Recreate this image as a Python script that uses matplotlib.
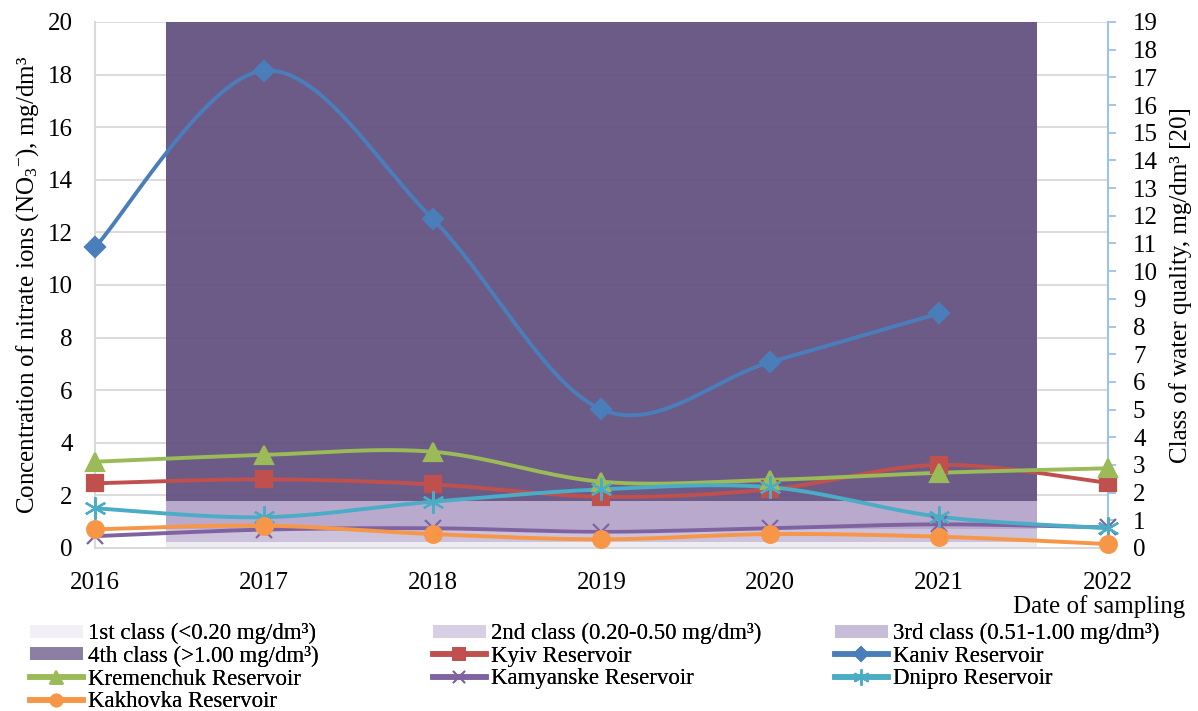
import numpy as np
import matplotlib
matplotlib.use("Agg")
import matplotlib.pyplot as plt
from matplotlib.colors import to_rgb
from matplotlib.lines import Line2D
from matplotlib.patches import Patch

plt.rcParams["font.family"] = ["Liberation Serif", "DejaVu Serif"]
plt.rcParams["mathtext.fontset"] = "custom"
plt.rcParams["mathtext.rm"] = "Liberation Serif"
plt.rcParams["mathtext.it"] = "Liberation Serif:italic"

# ---- data -------------------------------------------------------------
years = [2016, 2017, 2018, 2019, 2020, 2021, 2022]

kyiv = [2.46, 2.61, 2.42, 1.95, 2.23, 3.16, 2.48]
kaniv = [11.44, 18.15, 12.51, 5.27, 7.07, 8.92, np.nan]
kremenchuk = [3.28, 3.54, 3.66, 2.52, 2.59, 2.86, 3.03]
kamyanske = [0.45, 0.70, 0.75, 0.62, 0.75, 0.90, 0.78]
dnipro = [1.51, 1.17, 1.76, 2.23, 2.31, 1.19, 0.75]
kakhovka = [0.71, 0.85, 0.53, 0.33, 0.53, 0.43, 0.15]

series_names = ["Kyiv Reservoir", "Kaniv Reservoir", "Kremenchuk Reservoir",
                "Kamyanske Reservoir", "Dnipro Reservoir", "Kakhovka Reservoir"]
series_values = [kyiv, kaniv, kremenchuk, kamyanske, dnipro, kakhovka]

# water-quality class bands (stacked on the secondary axis)
class_labels = ["1st class (<0.20 mg/dm³)", "2nd class (0.20-0.50 mg/dm³)",
                "3rd class (0.51-1.00 mg/dm³)", "4th class (>1.00 mg/dm³)"]
class_heights = [0.2, 0.5, 1.0, 17.3]

# ---- styling ----------------------------------------------------------
class_colors = ["#EDEAF2", "#C8BDD9", "#B3A3C9", "#614D7D"]
BAR_ALPHA = 0.92
series_styles = [
    dict(color="#C0504D", marker="s", ms=12),
    dict(color="#4A7EBB", marker="D", ms=10),
    dict(color="#9BBB59", marker="^", ms=13),
    dict(color="#7F63A1", marker="x", ms=12),
    dict(color="#4BACC6", marker=(6, 2, 0), ms=16),
    dict(color="#F79646", marker="o", ms=12),
]
LW = 2.8
TICK_FS = 18
LEG_FS = 16.5
GRID_COLOR = "#D9D9D9"


def smooth_curve(x, y, steps=40):
    """Bezier smoothing through every point (Catmull-Rom style)."""
    x = np.asarray(x, float)
    y = np.asarray(y, float)
    ok = np.isfinite(y)
    p = np.column_stack([x[ok], y[ok]])
    n = len(p)
    out = []
    t = np.linspace(0, 1, steps)[:, None]
    for i in range(n - 1):
        p0 = p[i - 1] if i > 0 else p[i]
        p1 = p[i]
        p2 = p[i + 1]
        p3 = p[i + 2] if i + 2 < n else p[i + 1]
        c1 = p1 + (p2 - p0) / 6.0
        c2 = p2 - (p3 - p1) / 6.0
        seg = ((1 - t) ** 3) * p1 + 3 * ((1 - t) ** 2) * t * c1 \
            + 3 * (1 - t) * t ** 2 * c2 + t ** 3 * p2
        out.append(seg if i == 0 else seg[1:])
    seg = np.vstack(out)
    return seg[:, 0], seg[:, 1]


def lighten(c, keep=0.72):
    """Blend a colour toward white (used for the legend swatches)."""
    r, g, b = to_rgb(c)
    return tuple(keep * v + (1 - keep) for v in (r, g, b))


W, H = 1198, 711
fig = plt.figure(figsize=(W / 100, H / 100), dpi=100)
left, right, top, bottom = 95, 1108, 22, 548
ax = fig.add_axes([left / W, 1 - bottom / H, (right - left) / W, (bottom - top) / H])
ax2 = ax.twinx()
ax.set_zorder(ax2.get_zorder() + 1)
ax.patch.set_visible(False)

ax.set_xlim(2016, 2022)
ax.set_ylim(0, 20)
ax.set_xticks(years)
ax.set_yticks(range(0, 21, 2))
ax2.set_ylim(0, 19)
ax2.set_yticks(range(0, 20))

# gridlines sit behind the class column (drawn in the rear axes)
ax2.grid(axis="x", color=GRID_COLOR, linewidth=1.3, zorder=0)
ax2.set_axisbelow(True)
for v in range(0, 21, 2):
    ax2.plot([0, 1], [v, v], transform=ax.get_yaxis_transform(),
             color=GRID_COLOR, linewidth=1.3, zorder=0.5)

# class bands as one stacked column on the secondary axis
bar_center, bar_width = 2019.0, 5.155
base = 0.0
class_handles = []
for h, c, lab in zip(class_heights, class_colors, class_labels):
    ax2.bar(bar_center, h, width=bar_width, bottom=base, color=c,
            alpha=BAR_ALPHA, linewidth=0, zorder=1)
    base += h
    class_handles.append(Patch(facecolor=lighten(c), edgecolor="none", label=lab))

for s in ["left", "top", "bottom"]:
    ax2.spines[s].set_visible(False)
ax2.spines["right"].set_color("#9DC3E6")
ax2.spines["right"].set_linewidth(1.5)
ax2.tick_params(axis="y", direction="out", length=6, width=1.3,
                color="#9DC3E6", labelsize=TICK_FS, pad=12)

# main axis
for s in ["top", "right"]:
    ax.spines[s].set_visible(False)
for s in ["left", "bottom"]:
    ax.spines[s].set_color(GRID_COLOR)
    ax.spines[s].set_linewidth(1.5)
ax.tick_params(axis="both", length=0, labelsize=TICK_FS)
ax.tick_params(axis="x", pad=17)
ax.tick_params(axis="y", pad=16)

series_handles = []
for name, vals, st in zip(series_names, series_values, series_styles):
    xs, ys = smooth_curve(years, vals)
    ax.plot(xs, ys, color=st["color"], lw=LW, solid_capstyle="round",
            solid_joinstyle="round", clip_on=False, zorder=3)
    ax.plot(years, vals, ls="none", marker=st["marker"], ms=st["ms"],
            color=st["color"], mec=st["color"], mew=1.6, clip_on=False, zorder=4)
    series_handles.append(Line2D([], [], color=st["color"], lw=LW + 1.2,
                                 marker=st["marker"], ms=st["ms"] * 0.72,
                                 mew=1.3, label=name))

# axis titles
fig.text(28 / W, 1 - 285 / H,
         "Concentration of nitrate ions (NO$_3$$^{-}$), mg/dm³",
         rotation=90, ha="center", va="center", fontsize=TICK_FS)
fig.text(1181 / W, 1 - 285 / H, "Class of water quality, mg/dm³ [20]",
         rotation=90, ha="center", va="center", fontsize=TICK_FS)
fig.text(1185 / W, 1 - 607 / H, "Date of sampling",
         ha="right", va="center", fontsize=TICK_FS)

# legend, laid out in three equal-width columns (row-major order)
all_handles = class_handles + series_handles
columns = [all_handles[i::3] for i in range(3)]
col_x = [30, 433, 835]
for hs, cx in zip(columns, col_x):
    leg = fig.legend(handles=hs, loc="upper left",
                     bbox_to_anchor=(cx / W, 1 - 623 / H),
                     frameon=False, fontsize=LEG_FS, borderpad=0,
                     borderaxespad=0, handlelength=2.3, handleheight=0.5,
                     handletextpad=0.25, labelspacing=0.07, numpoints=1)
    fig.add_artist(leg)

fig.savefig("out.png", dpi=100)
